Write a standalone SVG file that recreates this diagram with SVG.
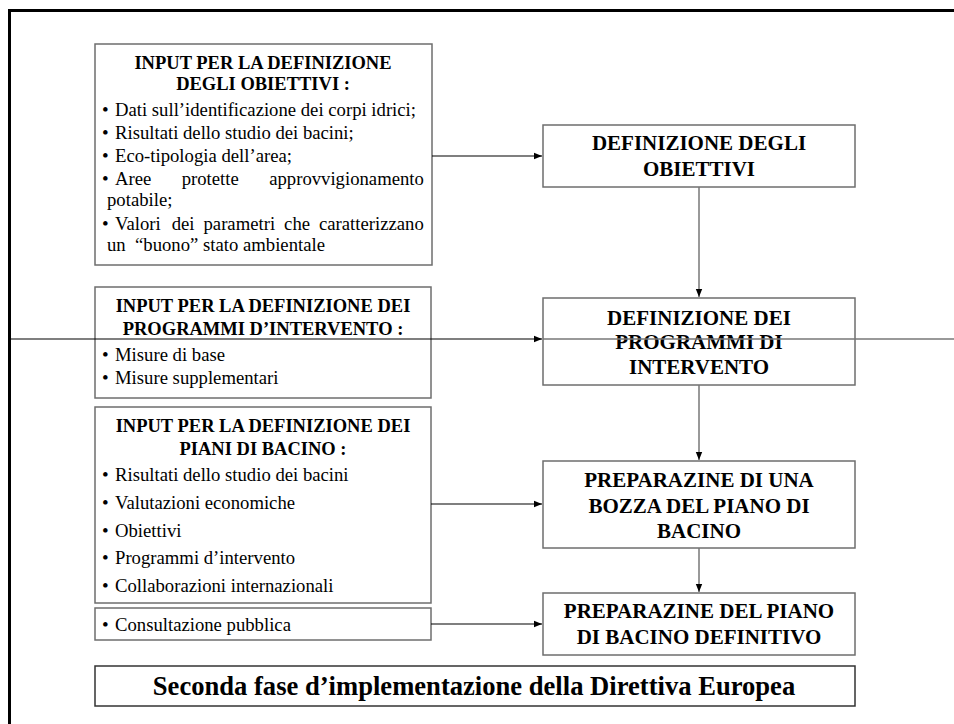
<svg xmlns="http://www.w3.org/2000/svg" width="954" height="724" viewBox="0 0 954 724">
<defs>
<marker id="ah" markerWidth="8" markerHeight="8" refX="8" refY="4" orient="auto" markerUnits="userSpaceOnUse"><path d="M0,0.8 L8,4 L0,7.2 z" fill="#000"/></marker>
</defs>
<style>
.box{fill:#fff;stroke:#6e6e6e;stroke-width:1.5}
.t{font-family:"Liberation Serif","Times New Roman",serif;fill:#000}
.h{font-weight:bold;font-size:18.5px;text-anchor:middle}
.b{font-size:18.7px}
.d{font-size:19px}
.m{font-weight:bold;font-size:21px;text-anchor:middle}
.c{fill:none;stroke:#000;stroke-width:1.2}
.v{fill:none;stroke:#777;stroke-width:1.5}
</style>
<rect x="0" y="0" width="954" height="724" fill="#fff"/>
<rect id="frame" x="9.5" y="10.5" width="970" height="740" fill="none" stroke="#000" stroke-width="3"/>

<g id="input-obiettivi">
<rect class="box" x="95" y="44" width="337" height="221"/>
<text class="t h" x="263" y="69">INPUT PER LA DEFINIZIONE</text>
<text class="t h" x="263" y="90">DEGLI OBIETTIVI :</text>
<text class="t d" x="102" y="116">•</text><text class="t b" x="115" y="116">Dati sull’identificazione dei corpi idrici;</text>
<text class="t d" x="102" y="139">•</text><text class="t b" x="115" y="139">Risultati dello studio dei bacini;</text>
<text class="t d" x="102" y="162">•</text><text class="t b" x="115" y="162">Eco-tipologia dell’area;</text>
<text class="t d" x="102" y="185">•</text><text class="t b" y="185"><tspan x="115">Aree</tspan><tspan x="181.7">protette</tspan><tspan x="269.2">approvvigionamento</tspan></text>
<text class="t b" x="107" y="206">potabile;</text>
<text class="t d" x="102" y="230">•</text><text class="t b" y="230"><tspan x="115">Valori</tspan><tspan x="171.7">dei</tspan><tspan x="203.5">parametri</tspan><tspan x="284.1">che</tspan><tspan x="319">caratterizzano</tspan></text>
<text class="t b" x="107" y="251" xml:space="preserve">un  “buono” stato ambientale</text>
</g>

<g id="def-obiettivi">
<rect class="box" x="543" y="125" width="312" height="62"/>
<text class="t m" x="699" y="150">DEFINIZIONE DEGLI</text>
<text class="t m" x="699" y="176">OBIETTIVI</text>
</g>

<g id="input-programmi">
<rect class="box" x="95" y="287" width="336" height="111"/>
<text class="t h" x="263" y="312">INPUT PER LA DEFINIZIONE DEI</text>
<text class="t h" x="263" y="335">PROGRAMMI D’INTERVENTO :</text>
<text class="t d" x="102" y="361">•</text><text class="t b" x="115" y="361">Misure di base</text>
<text class="t d" x="102" y="384">•</text><text class="t b" x="115" y="384">Misure supplementari</text>
</g>

<g id="def-programmi">
<rect class="box" x="543" y="298" width="312" height="87"/>
<text class="t m" x="699" y="325">DEFINIZIONE DEI</text>
<text class="t m" x="699" y="349">PROGRAMMI DI</text>
<text class="t m" x="699" y="374">INTERVENTO</text>
</g>

<g id="input-piani">
<rect class="box" x="95" y="407" width="336" height="196"/>
<text class="t h" x="263" y="432">INPUT PER LA DEFINIZIONE DEI</text>
<text class="t h" x="263" y="455">PIANI DI BACINO :</text>
<text class="t d" x="102" y="481">•</text><text class="t b" x="115" y="481">Risultati dello studio dei bacini</text>
<text class="t d" x="102" y="509">•</text><text class="t b" x="115" y="509">Valutazioni economiche</text>
<text class="t d" x="102" y="537">•</text><text class="t b" x="115" y="537">Obiettivi</text>
<text class="t d" x="102" y="564">•</text><text class="t b" x="115" y="564">Programmi d’intervento</text>
<text class="t d" x="102" y="592">•</text><text class="t b" x="115" y="592">Collaborazioni internazionali</text>
</g>

<g id="consultazione">
<rect class="box" x="95" y="608" width="336" height="32"/>
<text class="t d" x="102" y="631">•</text><text class="t b" x="115" y="631">Consultazione pubblica</text>
</g>

<g id="bozza">
<rect class="box" x="543" y="461" width="312" height="87"/>
<text class="t m" x="699" y="487">PREPARAZINE DI UNA</text>
<text class="t m" x="699" y="513">BOZZA DEL PIANO DI</text>
<text class="t m" x="699" y="538">BACINO</text>
</g>

<g id="definitivo">
<rect class="box" x="543" y="593" width="312" height="62"/>
<text class="t m" x="699" y="618">PREPARAZINE DEL PIANO</text>
<text class="t m" x="699" y="644">DI BACINO DEFINITIVO</text>
</g>

<g id="titolo">
<rect x="95" y="666" width="760" height="40" fill="#fff" stroke="#333" stroke-width="1.5"/>
<text class="t" x="474" y="695" font-weight="bold" font-size="26.6" text-anchor="middle">Seconda fase d’implementazione della Direttiva Europea</text>
</g>

<g id="connectors">
<line class="c" x1="432" y1="156" x2="542" y2="156" marker-end="url(#ah)"/>
<line class="c" x1="9" y1="339" x2="542" y2="339" marker-end="url(#ah)"/>
<line class="v" x1="543" y1="339" x2="954" y2="339" stroke-width="1.2"/>
<line class="c" x1="431" y1="504" x2="542" y2="504" marker-end="url(#ah)"/>
<line class="c" x1="431" y1="624" x2="542" y2="624" marker-end="url(#ah)"/>
<line class="v" x1="699" y1="187" x2="699" y2="297" marker-end="url(#ah)"/>
<line class="v" x1="699" y1="385" x2="699" y2="460" marker-end="url(#ah)"/>
<line class="v" x1="699" y1="548" x2="699" y2="592" marker-end="url(#ah)"/>
</g>
</svg>
